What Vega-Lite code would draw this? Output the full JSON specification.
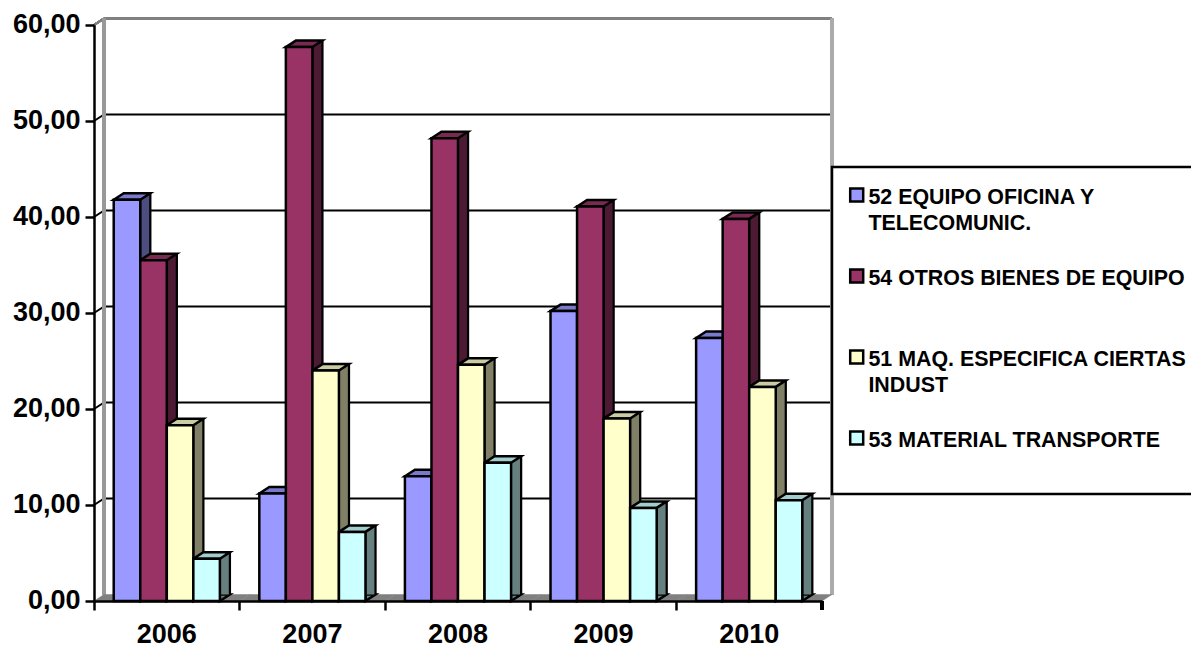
{
"$schema":"https://vega.github.io/schema/vega-lite/v6.json",
"width":728,"height":576,"autosize":"none",
"padding":{"left":94,"top":25,"right":369,"bottom":44},
"background":"white",
"config":{"view":{"stroke":null},"font":"Liberation Sans","legend":{"strokeWidth":2.5}},
"datasets":{
"bars":[
{"year":2006,"series":"52 EQUIPO OFICINA Y TELECOMUNIC.","value":41.8},
{"year":2006,"series":"54 OTROS BIENES DE EQUIPO","value":35.5},
{"year":2006,"series":"51 MAQ. ESPECIFICA CIERTAS INDUST","value":18.3},
{"year":2006,"series":"53 MATERIAL TRANSPORTE","value":4.4},
{"year":2007,"series":"52 EQUIPO OFICINA Y TELECOMUNIC.","value":11.2},
{"year":2007,"series":"54 OTROS BIENES DE EQUIPO","value":57.7},
{"year":2007,"series":"51 MAQ. ESPECIFICA CIERTAS INDUST","value":24.0},
{"year":2007,"series":"53 MATERIAL TRANSPORTE","value":7.2},
{"year":2008,"series":"52 EQUIPO OFICINA Y TELECOMUNIC.","value":13.0},
{"year":2008,"series":"54 OTROS BIENES DE EQUIPO","value":48.2},
{"year":2008,"series":"51 MAQ. ESPECIFICA CIERTAS INDUST","value":24.6},
{"year":2008,"series":"53 MATERIAL TRANSPORTE","value":14.4},
{"year":2009,"series":"52 EQUIPO OFICINA Y TELECOMUNIC.","value":30.2},
{"year":2009,"series":"54 OTROS BIENES DE EQUIPO","value":41.1},
{"year":2009,"series":"51 MAQ. ESPECIFICA CIERTAS INDUST","value":19.0},
{"year":2009,"series":"53 MATERIAL TRANSPORTE","value":9.7},
{"year":2010,"series":"52 EQUIPO OFICINA Y TELECOMUNIC.","value":27.4},
{"year":2010,"series":"54 OTROS BIENES DE EQUIPO","value":39.8},
{"year":2010,"series":"51 MAQ. ESPECIFICA CIERTAS INDUST","value":22.3},
{"year":2010,"series":"53 MATERIAL TRANSPORTE","value":10.5}
],
"grid":[{"tick":0},{"tick":10},{"tick":20},{"tick":30},{"tick":40},{"tick":50}],
"years":[{"year":2006},{"year":2007},{"year":2008},{"year":2009},{"year":2010}]
},
"data":{"name":"bars"},
"resolve":{"scale":{"fill":"independent","stroke":"independent","xOffset":"independent"}},
"layer":[
{"data":{"name":"grid"},"transform":[{"filter":"datum.tick>0"}],
 "mark":{"type":"rule","stroke":"black","strokeWidth":2,"xOffset":10,"x2Offset":10,"yOffset":-6.5,"y2Offset":-6.5},
 "encoding":{"y":{"field":"tick","type":"quantitative","scale":{"domain":[0,60],"nice":false},
   "axis":{"values":[0,10,20,30,40,50,60],"title":null,"grid":false,"zindex":1,"domainColor":"black","domainWidth":2.5,"tickColor":"black","tickWidth":2.5,"tickSize":9,"labelFont":"Liberation Sans","labelFontWeight":"bold","labelFontSize":27,"labelColor":"black","labelPadding":5,"labelOffset":-1,"labelExpr":"replace(format(datum.value,'.2f'),'.',',')"}},
   "x":{"datum":2006,"type":"nominal","bandPosition":0,"scale":{"domain":[2006,2007,2008,2009,2010],"paddingInner":0,"paddingOuter":0},
   "axis":{"title":null,"zindex":1,"labelAngle":0,"bandPosition":0,"domainColor":"black","domainWidth":2.5,"tickColor":"black","tickWidth":2.5,"tickSize":9,"labelFont":"Liberation Sans","labelFontWeight":"bold","labelFontSize":27,"labelColor":"black","labelPadding":11}},
   "x2":{"datum":2010,"bandPosition":1}}},
{"data":{"name":"grid"},"transform":[{"filter":"datum.tick>0"}],
 "mark":{"type":"point","filled":false,"shape":"M0,0L10,-6.5","size":4,"stroke":"black","strokeWidth":2,"opacity":1},
 "encoding":{"y":{"field":"tick","type":"quantitative"},"x":{"datum":2006,"type":"nominal","bandPosition":0}}},
{"mark":{"type":"rule","stroke":"#808080","strokeWidth":3,"xOffset":10,"x2Offset":10,"yOffset":-6.5,"y2Offset":-6.5},
 "encoding":{"y":{"datum":60,"type":"quantitative"},"x":{"datum":2006,"type":"nominal","bandPosition":0},"x2":{"datum":2010,"bandPosition":1}}},
{"mark":{"type":"point","filled":false,"shape":"M0,0L10,-6.5","size":4,"stroke":"#808080","strokeWidth":2,"opacity":1},
 "encoding":{"y":{"datum":60,"type":"quantitative"},"x":{"datum":2006,"type":"nominal","bandPosition":0}}},
{"mark":{"type":"rule","stroke":"#999999","strokeWidth":2.5,"xOffset":10,"yOffset":-6.5,"y2Offset":-6.5},
 "encoding":{"y":{"datum":60,"type":"quantitative"},"y2":{"datum":0},"x":{"datum":2006,"type":"nominal","bandPosition":0}}},
{"mark":{"type":"rule","stroke":"#aaaaaa","strokeWidth":2.5,"xOffset":10,"yOffset":-6.5,"y2Offset":-6.5},
 "encoding":{"y":{"datum":60,"type":"quantitative"},"y2":{"datum":0},"x":{"datum":2010,"type":"nominal","bandPosition":1}}},
{"data":{"name":"years"},
 "mark":{"type":"point","filled":true,"shape":"M-72.8,0L-62.8,-6.5L82.8,-6.5L72.8,0Z","size":4,"fill":"#808080","stroke":"#808080","strokeWidth":0.5,"opacity":1},
 "encoding":{"x":{"field":"year","type":"nominal"},"y":{"datum":0,"type":"quantitative"}}},
{"mark":{"type":"point","filled":false,"shape":"M0,0L0,9","size":4,"stroke":"black","strokeWidth":2.5,"opacity":1},
 "encoding":{"x":{"datum":2010,"type":"nominal","bandPosition":1},"y":{"datum":0,"type":"quantitative"}}},
{"mark":{"type":"rule","stroke":"black","strokeWidth":12.5,"yOffset":-6.5,"y2Offset":-6.5},
 "encoding":{"x":{"field":"year","type":"nominal"},"xOffset":{"field":"series","type":"nominal","scale":{"type":"point","padding":0,"range":[51.2,130.8],"domain":["52 EQUIPO OFICINA Y TELECOMUNIC.","54 OTROS BIENES DE EQUIPO","51 MAQ. ESPECIFICA CIERTAS INDUST","53 MATERIAL TRANSPORTE"]}},
 "y":{"field":"value","type":"quantitative"},"y2":{"datum":0}}},
{"mark":{"type":"point","filled":true,"shape":"M13.27,0L23.27,-6.5L13.27,-6.5Z","size":4,"stroke":"black","strokeWidth":2.5,"opacity":1},
 "encoding":{"x":{"field":"year","type":"nominal"},"xOffset":{"field":"series","type":"nominal","scale":{"type":"point","padding":0,"range":[33,112.6],"domain":["52 EQUIPO OFICINA Y TELECOMUNIC.","54 OTROS BIENES DE EQUIPO","51 MAQ. ESPECIFICA CIERTAS INDUST","53 MATERIAL TRANSPORTE"]}},
 "y":{"datum":0,"type":"quantitative"},
 "fill":{"field":"series","type":"nominal","legend":null,"scale":{"domain":["52 EQUIPO OFICINA Y TELECOMUNIC.","54 OTROS BIENES DE EQUIPO","51 MAQ. ESPECIFICA CIERTAS INDUST","53 MATERIAL TRANSPORTE"],"range":["#4D4D80","#4D1A33","#808066","#668080"]}}}},
{"mark":{"type":"rule","strokeWidth":8,"yOffset":-6.5,"y2Offset":-6.5},
 "encoding":{"x":{"field":"year","type":"nominal"},"xOffset":{"field":"series","type":"nominal","scale":{"type":"point","padding":0,"range":[51.2,130.8],"domain":["52 EQUIPO OFICINA Y TELECOMUNIC.","54 OTROS BIENES DE EQUIPO","51 MAQ. ESPECIFICA CIERTAS INDUST","53 MATERIAL TRANSPORTE"]}},
 "y":{"field":"value","type":"quantitative"},"y2":{"datum":0},
 "stroke":{"field":"series","type":"nominal","legend":null,"scale":{"domain":["52 EQUIPO OFICINA Y TELECOMUNIC.","54 OTROS BIENES DE EQUIPO","51 MAQ. ESPECIFICA CIERTAS INDUST","53 MATERIAL TRANSPORTE"],"range":["#4D4D80","#4D1A33","#808066","#668080"]}}}},
{"mark":{"type":"point","filled":true,"shape":"M-13.27,0L-3.27,-6.5L23.27,-6.5L13.27,0Z","size":4,"stroke":"black","strokeWidth":2.5,"opacity":1},
 "encoding":{"x":{"field":"year","type":"nominal"},"xOffset":{"field":"series","type":"nominal","scale":{"type":"point","padding":0,"range":[33,112.6],"domain":["52 EQUIPO OFICINA Y TELECOMUNIC.","54 OTROS BIENES DE EQUIPO","51 MAQ. ESPECIFICA CIERTAS INDUST","53 MATERIAL TRANSPORTE"]}},
 "y":{"field":"value","type":"quantitative"},
 "fill":{"field":"series","type":"nominal","legend":null,"scale":{"domain":["52 EQUIPO OFICINA Y TELECOMUNIC.","54 OTROS BIENES DE EQUIPO","51 MAQ. ESPECIFICA CIERTAS INDUST","53 MATERIAL TRANSPORTE"],"range":["#7A7ACC","#7A2952","#CCCCA3","#A3CCCC"]}}}},
{"mark":{"type":"bar","stroke":"black","strokeWidth":2.5},
 "encoding":{"x":{"field":"year","type":"nominal"},"xOffset":{"field":"series","type":"nominal","scale":{"paddingInner":0,"paddingOuter":0.743,"domain":["52 EQUIPO OFICINA Y TELECOMUNIC.","54 OTROS BIENES DE EQUIPO","51 MAQ. ESPECIFICA CIERTAS INDUST","53 MATERIAL TRANSPORTE"]}},
 "y":{"field":"value","type":"quantitative"},
 "fill":{"field":"series","type":"nominal","scale":{"domain":["52 EQUIPO OFICINA Y TELECOMUNIC.","54 OTROS BIENES DE EQUIPO","51 MAQ. ESPECIFICA CIERTAS INDUST","53 MATERIAL TRANSPORTE"],"range":["#9999FF","#993366","#FFFFCC","#CCFFFF"]},
 "legend":{"orient":"none","legendX":738,"legendY":142,"title":null,"padding":16,"strokeColor":"black","fillColor":"white","symbolType":"square","symbolSize":169,"symbolStrokeColor":"black","symbolStrokeWidth":2.5,"symbolOffset":-2,"symbolBaseline":"bottom","labelBaseline":"top","labelFont":"Liberation Sans","labelFontWeight":"bold","labelFontSize":21.4,"labelColor":"black","labelLimit":500,"labelOffset":1,"rowPadding":29,"encoding":{"labels":{"dy":{"value":-7},"lineHeight":{"value":26}},"symbols":{"y":{"value":12}}},"labelExpr":"datum.value=='52 EQUIPO OFICINA Y TELECOMUNIC.'?['52 EQUIPO OFICINA Y','TELECOMUNIC.']:datum.value=='51 MAQ. ESPECIFICA CIERTAS INDUST'?['51 MAQ. ESPECIFICA CIERTAS','INDUST']:[datum.label,' ']"}}}}
]}
